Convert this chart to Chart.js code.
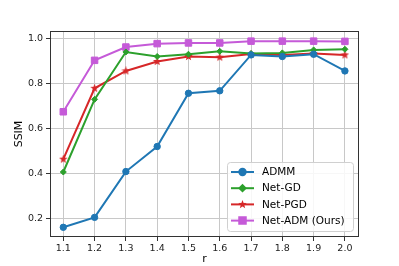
<!DOCTYPE html>
<html>
<head>
<meta charset="utf-8">
<script src="https://cdn.jsdelivr.net/npm/chart.js@4/dist/chart.umd.min.js"></script>
<style>
  html, body { margin: 0; padding: 0; background: #fff; }
  #wrap { width: 399px; height: 266px; }
</style>
</head>
<body>
<div id="wrap"><canvas id="chart" width="399" height="266"></canvas></div>
<script>
// values
const rValues = [1.1, 1.2, 1.3, 1.4, 1.5, 1.6, 1.7, 1.8, 1.9, 2.0];
const admm   = [0.162, 0.206, 0.409, 0.520, 0.756, 0.767, 0.926, 0.919, 0.929, 0.855];
const netGD  = [0.407, 0.729, 0.939, 0.919, 0.929, 0.942, 0.932, 0.935, 0.948, 0.951];
const netPGD = [0.464, 0.778, 0.855, 0.897, 0.919, 0.916, 0.930, 0.926, 0.932, 0.926];
const netADM = [0.674, 0.902, 0.961, 0.976, 0.979, 0.979, 0.987, 0.987, 0.987, 0.986];
const seriesNames = ['ADMM', 'Net-GD', 'Net-PGD', 'Net-ADM (Ours)'];
const xTicks = [1.1, 1.2, 1.3, 1.4, 1.5, 1.6, 1.7, 1.8, 1.9, 2.0];
const yTicks = [0.2, 0.4, 0.6, 0.8, 1.0];

const FONT = 'DejaVu Sans';

function pts(ys) {
    return rValues.map((x, i) => ({ x: x, y: ys[i] }));
}

// filled five point star, matplotlib '*' marker
function starImage(color, size) {
    const cv = document.createElement('canvas');
    cv.width = size; cv.height = size;
    const c = cv.getContext('2d');
    const cx = size / 2, cy = size / 2, R = size / 2, r = R * 0.42;
    c.fillStyle = color;
    c.beginPath();
    for (let k = 0; k < 10; k++) {
        const ang = -Math.PI / 2 + k * Math.PI / 5;
        const rr = k % 2 === 0 ? R : r;
        c.lineTo(cx + rr * Math.cos(ang), cy + rr * Math.sin(ang));
    }
    c.closePath();
    c.fill();
    return cv;
}

// box around the plot area, like matplotlib spines
const framePlugin = {
    id: 'frame',
    afterDatasetsDraw(chart) {
        const a = chart.chartArea;
        const c = chart.ctx;
        c.save();
        c.strokeStyle = '#333';
        c.lineWidth = 1;
        c.strokeRect(a.left + 0.5, a.top + 0.5, a.right - a.left - 1, a.bottom - a.top - 1);
        c.restore();
    }
};

// legend inside the lower right of the plot
const insideLegend = {
    id: 'insideLegend',
    afterDraw(chart) {
        const c = chart.ctx;
        const a = chart.chartArea;
        const x0 = a.right - 132, y0 = a.bottom - 75, w = 126, h = 69;
        c.save();
        c.fillStyle = 'rgba(255,255,255,0.85)';
        c.strokeStyle = '#d0d0d0';
        c.lineWidth = 1;
        c.beginPath();
        c.roundRect(x0 + 0.5, y0 + 0.5, w, h, 3);
        c.fill();
        c.stroke();
        chart.data.datasets.forEach((ds, i) => {
            const yy = y0 + 10 + i * 16.2;
            c.strokeStyle = ds.borderColor;
            c.lineWidth = 2;
            c.beginPath();
            c.moveTo(x0 + 4, yy);
            c.lineTo(x0 + 27, yy);
            c.stroke();
            c.fillStyle = ds.borderColor;
            Chart.helpers.drawPoint(c, {
                pointStyle: ds.pointStyle,
                radius: ds.pointRadius,
                borderWidth: 1
            }, x0 + 15.5, yy);
            c.fillStyle = '#000';
            c.font = '10.5px "' + FONT + '"';
            c.textBaseline = 'middle';
            c.fillText(ds.label, x0 + 35, yy + 0.5);
        });
        c.restore();
    }
};

const colors = ['#1f77b4', '#2ca02c', '#d62728', '#c55ad8'];
const styles = ['circle', 'rectRot', starImage('#d62728', 9), 'rect'];
const radii = [3.2, 3, 4.5, 4.6];
const allData = [admm, netGD, netPGD, netADM];

const ctx = document.getElementById('chart').getContext('2d');
const myChart = new Chart(ctx, {
    type: 'line',
    data: {
        datasets: allData.map((d, i) => ({
            label: seriesNames[i],
            data: pts(d),
            borderColor: colors[i],
            backgroundColor: colors[i],
            pointStyle: styles[i],
            pointRadius: radii[i],
            pointBorderWidth: 1,
            borderWidth: 2,
            tension: 0
        }))
    },
    options: {
        responsive: false,
        animation: false,
        layout: { padding: { left: 13, right: 40, top: 31, bottom: 0 } },
        plugins: {
            legend: { display: false },
            tooltip: { enabled: false }
        },
        scales: {
            x: {
                type: 'linear',
                min: 1.0575,
                max: 2.045,
                afterBuildTicks(axis) {
                    axis.ticks = xTicks.map(v => ({ value: v }));
                },
                afterFit(axis) { axis.height = 29; },
                grid: { color: '#c8c8c8', lineWidth: 1, tickColor: '#333', tickLength: 4 },
                border: { display: false },
                ticks: {
                    color: '#222',
                    font: { family: FONT, size: 9.5 },
                    padding: 2,
                    maxRotation: 0,
                    callback: v => v.toFixed(1)
                },
                title: {
                    display: true,
                    text: 'r',
                    color: '#000',
                    font: { family: FONT, size: 11 },
                    padding: { top: 0, bottom: 0 }
                }
            },
            y: {
                min: 0.119,
                max: 1.032,
                afterBuildTicks(axis) {
                    axis.ticks = yTicks.map(v => ({ value: v }));
                },
                afterFit(axis) { axis.width = 37; },
                grid: { color: '#c8c8c8', lineWidth: 1, tickColor: '#333', tickLength: 4 },
                border: { display: false },
                ticks: {
                    color: '#222',
                    font: { family: FONT, size: 9.5 },
                    padding: 3,
                    callback: v => v.toFixed(1)
                },
                title: {
                    display: true,
                    text: 'SSIM',
                    color: '#000',
                    font: { family: FONT, size: 11 },
                    padding: { top: 0, bottom: 2 }
                }
            }
        }
    },
    plugins: [framePlugin, insideLegend]
});
</script>
</body>
</html>
